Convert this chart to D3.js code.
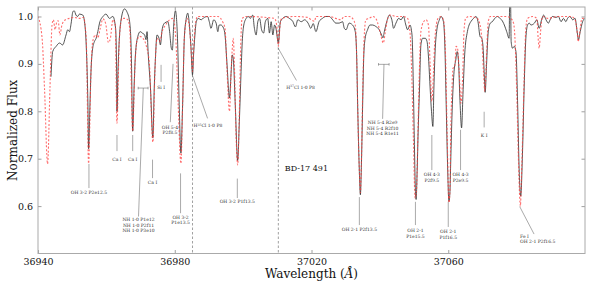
<!DOCTYPE html>
<html><head><meta charset="utf-8">
<script src="https://cdn.jsdelivr.net/npm/d3@7"></script>
<style>body{margin:0;background:#fff}svg{display:block}</style>
</head><body>
<svg id="c" width="597" height="285"></svg>
<script>
// ---- data ----
const obsWave=[36943.8,36944.3,36945.3,36946.3,36947.2,36948.2,36948.7,36949.2,36949.7,36950.2,36950.6,36951.1,36951.6,36952.1,36953.1,36953.6,36954.1,36954.6,36954.8,36955.2,36955.5,36956.0,36956.5,36957.0,36957.5,36958.0,36959.0,36959.9,36960.9,36961.9,36962.7,36963.0,36963.1,36963.4,36963.8,36964.3,36965.3,36966.0,36966.8,36967.3,36967.7,36968.1,36968.5,36969.2,36969.9,36970.5,36971.2,36971.6,36971.9,36972.2,36972.9,36973.6,36974.0,36974.4,36974.8,36975.4,36975.8,36976.3,36977.0,36978.0,36978.5,36979.0,36979.3,36979.7,36980.2,36980.8,36981.3,36981.8,36982.3,36982.8,36983.3,36983.8,36984.2,36984.7,36985.2,36985.5,36985.9,36986.3,36986.9,36987.7,36988.6,36989.6,36990.1,36990.6,36991.4,36992.1,36992.6,36993.0,36993.5,36994.3,36994.7,36995.3,36996.0,36996.5,36996.8,36997.1,36997.7,36998.4,36998.9,36999.4,36999.8,37000.2,37000.9,37001.5,37002.1,37002.8,37003.3,37003.8,37004.3,37004.8,37005.4,37006.0,37006.5,37007.2,37007.7,37008.2,37008.7,37009.2,37009.6,37010.3,37010.9,37011.6,37012.6,37013.5,37014.5,37015.3,37016.0,37017.0,37018.0,37019.0,37019.8,37020.5,37021.3,37022.2,37023.2,37024.2,37025.2,37026.2,37027.1,37028.1,37029.1,37029.6,37030.1,37031.0,37032.0,37032.8,37033.2,37033.5,37034.0,37034.3,37034.6,37035.0,37035.3,37035.7,37036.4,37037.1,37037.9,37038.8,37039.8,37040.5,37040.9,37041.3,37042.0,37042.8,37043.5,37044.0,37044.7,37045.5,37046.2,37046.9,37047.6,37048.1,37048.8,37049.4,37049.8,37050.1,37050.4,37050.6,37050.9,37051.2,37051.6,37052.0,37052.5,37053.3,37053.8,37054.3,37054.7,37055.1,37055.5,37055.8,37056.2,37056.6,37057.4,37057.9,37058.6,37059.0,37059.4,37059.8,37060.2,37060.5,37060.7,37061.2,37061.7,37062.2,37062.6,37063.0,37063.4,37063.9,37064.3,37064.8,37065.6,37066.1,37066.6,37067.4,37068.1,37068.7,37069.3,37069.8,37070.2,37070.5,37070.8,37071.2,37071.7,37072.3,37072.9,37073.6,37074.4,37075.1,37075.6,37076.4,37077.1,37077.8,37078.0,37078.2,37078.4,37078.8,37079.3,37079.8,37080.3,37080.7,37081.2,37081.7,37082.2,37082.7,37083.2,37083.7,37084.2,37085.2,37085.9,37086.6,37087.3,37087.9,37088.6,37089.3,37089.8,37090.5,37091.5,37092.2,37093.0,37093.7,37094.4,37094.9,37095.6,37096.4,37097.1,37097.7,37098.1,37098.6,37099.3,37100.0];
const obsFlux=[0.873,0.926,0.937,0.944,0.940,0.961,0.972,0.968,0.986,1.010,1.012,1.003,1.000,1.005,1.003,0.989,0.940,0.814,0.721,0.814,0.884,0.933,0.947,0.954,0.968,0.986,1.000,1.005,0.996,1.000,0.975,0.884,0.800,0.884,0.954,0.993,1.016,1.010,0.989,0.919,0.758,0.849,0.919,0.958,0.968,0.965,0.961,0.951,0.968,0.926,0.849,0.744,0.849,0.919,0.961,0.954,0.940,0.972,0.986,0.989,0.968,0.933,0.929,0.982,1.012,0.954,0.814,0.712,0.814,0.954,0.993,1.007,0.989,0.940,0.877,0.919,0.961,0.989,0.996,0.993,0.998,1.000,0.989,0.975,0.993,0.986,0.968,0.982,0.982,0.975,0.961,0.898,0.828,0.884,0.919,0.912,0.814,0.696,0.779,0.884,0.954,0.982,0.996,1.000,0.996,1.003,0.975,0.961,0.989,0.996,0.972,0.965,0.989,0.996,0.965,0.989,0.961,0.982,0.975,0.944,0.989,0.996,1.000,0.996,0.990,0.978,0.993,0.989,0.993,0.986,0.975,0.985,0.968,0.989,0.996,1.000,1.000,0.993,0.986,0.986,0.989,0.975,0.972,0.986,0.982,0.968,0.919,0.814,0.673,0.624,0.687,0.828,0.919,0.954,0.972,0.982,0.982,0.979,0.972,0.961,0.955,0.968,0.989,1.003,0.993,0.975,0.986,0.996,0.993,1.000,0.982,0.972,0.982,0.961,0.849,0.730,0.631,0.614,0.673,0.758,0.849,0.940,0.954,0.954,0.947,0.905,0.849,0.800,0.768,0.849,0.933,0.968,0.993,1.000,0.989,0.940,0.814,0.687,0.610,0.631,0.687,0.814,0.884,0.908,0.926,0.905,0.828,0.765,0.835,0.919,0.968,0.982,0.989,0.996,1.000,0.989,0.958,0.954,0.933,0.884,0.840,0.898,0.968,0.986,0.989,0.996,1.000,0.996,0.993,0.982,0.968,0.954,1.045,1.045,0.947,0.933,0.937,0.926,0.814,0.687,0.621,0.708,0.849,0.954,0.982,0.986,0.982,0.986,0.993,0.975,0.993,1.003,0.993,0.986,0.993,1.000,0.998,1.000,0.989,0.996,0.989,0.996,1.000,0.993,0.996,0.968,0.951,0.968,0.989,0.996];

const modWave=[36940.0,36941.2,36941.9,36942.8,36943.5,36944.1,36944.5,36945.0,36945.5,36945.9,36946.4,36947.0,36948.0,36949.2,36950.6,36952.1,36953.3,36954.1,36954.8,36955.5,36956.0,36956.8,36957.5,36958.2,36959.0,36959.8,36960.6,36961.2,36961.9,36962.6,36963.1,36963.8,36964.6,36965.3,36966.3,36966.9,36967.7,36968.3,36968.9,36969.7,36970.7,36971.6,36972.6,36973.6,36974.2,36974.8,36975.6,36976.3,36977.3,36978.5,36979.5,36980.3,36981.0,36981.8,36982.3,36982.8,36983.6,36984.2,36984.7,36985.2,36985.6,36986.0,36986.7,36990.6,36992.6,36994.0,36994.7,36995.3,36996.0,36996.5,36996.9,36997.1,36997.5,36997.9,36998.4,36998.9,36999.3,36999.7,37000.9,37009.2,37009.8,37010.3,37010.8,37011.3,37015.0,37018.9,37019.9,37020.9,37021.3,37023.2,37025.2,37027.1,37028.6,37029.6,37031.0,37032.0,37032.8,37033.2,37033.6,37034.0,37034.3,37034.6,37035.0,37035.4,37035.9,37036.9,37037.9,37038.8,37039.8,37040.5,37041.0,37041.6,37042.3,37043.2,37044.7,37046.7,37048.1,37048.8,37049.3,37049.8,37050.3,37050.7,37051.1,37051.5,37052.0,37052.8,37053.5,37054.2,37054.7,37055.2,37055.7,37056.1,37057.0,37057.9,37058.6,37059.2,37059.7,37060.2,37060.5,37060.7,37061.1,37061.4,37061.9,37062.3,37062.7,37063.2,37063.7,37064.2,37064.6,37065.1,37066.1,37068.5,37069.3,37069.8,37070.3,37070.7,37071.2,37071.7,37072.3,37076.9,37078.3,37079.1,37079.6,37080.0,37080.5,37080.9,37081.1,37081.4,37081.8,37082.2,37082.7,37083.2,37084.7,37085.9,37086.3,37086.6,37087.0,37087.6,37089.1,37092.0,37095.9,37097.1,37097.7,37098.0,37098.5,37099.1,37100.0];
const modFlux=[1.000,0.954,0.849,0.689,0.849,0.982,0.993,0.972,0.989,0.991,0.961,0.982,0.993,0.996,0.998,0.996,0.998,0.954,0.690,0.884,0.947,0.961,0.955,0.975,0.995,0.985,0.945,0.955,0.993,0.982,0.775,0.954,0.996,0.996,0.993,0.968,0.758,0.884,0.947,0.958,0.954,0.940,0.898,0.735,0.884,0.954,0.947,0.968,0.982,0.993,0.996,0.954,0.814,0.690,0.814,0.954,0.996,0.982,0.940,0.884,0.940,0.982,1.000,1.000,1.000,0.989,0.975,0.884,0.800,0.884,0.940,0.954,0.884,0.758,0.687,0.800,0.940,0.996,1.000,0.996,0.982,0.937,0.982,0.996,1.000,0.998,0.993,0.990,1.000,1.000,1.000,0.996,0.993,1.000,1.000,0.996,0.982,0.919,0.779,0.673,0.628,0.694,0.849,0.954,0.993,0.996,1.000,0.996,0.975,0.954,0.944,0.968,0.996,1.003,1.000,1.000,0.996,0.968,0.884,0.744,0.617,0.631,0.744,0.870,0.968,0.989,0.993,0.982,0.898,0.821,0.884,0.954,0.996,1.000,0.993,0.919,0.744,0.607,0.631,0.743,0.849,0.891,0.894,0.937,0.933,0.884,0.817,0.870,0.968,0.996,1.000,0.996,0.982,0.954,0.884,0.842,0.919,0.989,1.000,1.000,0.996,0.986,0.940,0.849,0.708,0.617,0.600,0.659,0.758,0.870,0.975,0.996,1.000,0.996,0.954,0.933,0.968,1.000,0.996,1.000,1.000,0.993,0.968,0.947,0.968,0.996,0.996];

const xTicks=[36940,36980,37020,37060];
const yTicks=[0.6,0.7,0.8,0.9,1.0];
const refLines=[36985.2,37010.3];
const starName="BD-17 491";

// line annotations: label lines, line from (x1,y1) to (x2,y2), text at (tx,ty)
const annotations=[
 {lines:["OH 3-2 P2e12.5"],x1:36954.9,y1:0.689,x2:36954.9,y2:0.638,tx:36954.9,ty:0.629},
 {lines:["Ca I"],x1:36963.1,y1:0.750,x2:36963.1,y2:0.716,tx:36963.1,ty:0.699},
 {lines:["Ca I"],x1:36967.7,y1:0.750,x2:36967.7,y2:0.716,tx:36967.7,ty:0.699},
 {lines:["Ca I"],x1:36973.5,y1:0.698,x2:36973.5,y2:0.659,tx:36973.5,ty:0.650},
 {lines:["NH 1-0 P1e12","NH 1-0 P2f11","NH 1-0 P3e10"],x1:36970.8,y1:0.849,x2:36969.4,y2:0.578,tx:36969.4,ty:0.571,bracket:[36969.3,36972.2]},
 {lines:["Si I"],x1:36976.0,y1:0.898,x2:36976.0,y2:0.862,tx:36976.0,ty:0.851},
 {lines:["OH 5-4","P2f8.5"],x1:36979.5,y1:0.900,x2:36978.7,y2:0.777,tx:36978.6,ty:0.767},
 {lines:["OH 3-2","P1e13.5"],x1:36981.7,y1:0.669,x2:36981.7,y2:0.585,tx:36981.7,ty:0.576},
 {lines:["H<sup>35</sup>Cl 1-0 P8"],x1:36985.1,y1:0.877,x2:36989.6,y2:0.785,tx:36989.7,ty:0.770},
 {lines:["H<sup>37</sup>Cl 1-0 P8"],x1:37010.2,y1:0.934,x2:37015.6,y2:0.865,tx:37016.8,ty:0.851},
 {lines:["OH 3-2 P1f13.5"],x1:36998.3,y1:0.658,x2:36998.3,y2:0.617,tx:36998.3,ty:0.610},
 {lines:["OH 2-1 P2f13.5"],x1:37034.0,y1:0.619,x2:37034.0,y2:0.560,tx:37034.0,ty:0.550},
 {lines:["NH 5-4 R2e9","NH 5-4 R2f10","NH 5-4 R1e11"],x1:37041.2,y1:0.899,x2:37040.8,y2:0.784,tx:37040.8,ty:0.776,bracket:[37039.6,37042.7]},
 {lines:["OH 4-3","P2f9.5"],x1:37055.2,y1:0.750,x2:37055.2,y2:0.676,tx:37055.2,ty:0.666},
 {lines:["OH 2-1","P1e15.5"],x1:37050.4,y1:0.609,x2:37050.4,y2:0.560,tx:37050.4,ty:0.548},
 {lines:["OH 2-1","P1f16.5"],x1:37060.0,y1:0.609,x2:37060.0,y2:0.556,tx:37060.0,ty:0.546},
 {lines:["OH 4-3","P2e9.5"],x1:37063.6,y1:0.761,x2:37063.6,y2:0.676,tx:37063.6,ty:0.666},
 {lines:["K I"],x1:37070.5,y1:0.799,x2:37070.5,y2:0.766,tx:37070.5,ty:0.750},
 {lines:["Fe I","OH 2-1 P2f16.5"],x1:37080.9,y1:0.599,x2:37085.1,y2:0.541,tx:37081.0,ty:0.536,anchor:"start"}
];

// ---- drawing ----
const svg=d3.select("#c");
const L=38,R=585,T=7,B=253.5;
const x=d3.scaleLinear().domain([36940,37100]).range([L,R]);
const y=d3.scaleLinear().domain([0.5,1.02]).range([B,T]);
const serif="'DejaVu Serif', serif";

svg.append("rect").attr("width",597).attr("height",285).attr("fill","#fff");
svg.append("clipPath").attr("id","pc").append("rect").attr("x",L).attr("y",T).attr("width",R-L).attr("height",B-T);

const plot=svg.append("g").attr("clip-path","url(#pc)");
const line=d3.line().x(d=>x(d[0])).y(d=>y(d[1])).curve(d3.curveMonotoneX);

plot.selectAll(".ref").data(refLines).join("line")
 .attr("x1",d=>x(d)).attr("x2",d=>x(d)).attr("y1",T).attr("y2",B)
 .attr("stroke","#888").attr("stroke-width",0.8).attr("stroke-dasharray","2.5,2");

plot.append("path").datum(obsWave.map((w,i)=>[w,obsFlux[i]]))
 .attr("d",line).attr("fill","none").attr("stroke","#2a2a2a").attr("stroke-width",0.8);
plot.append("path").datum(modWave.map((w,i)=>[w,modFlux[i]]))
 .attr("d",line).attr("fill","none").attr("stroke","#ff3b3b").attr("stroke-opacity",0.75)
 .attr("stroke-width",1.1).attr("stroke-dasharray","2,1.8");

// annotations
const ag=svg.append("g");
const fs=4.5;
annotations.forEach(a=>{
  ag.append("line").attr("x1",x(a.x1)).attr("y1",y(a.y1)).attr("x2",x(a.x2)).attr("y2",y(a.y2))
    .attr("stroke","#555").attr("stroke-width",0.5);
  if(a.bracket){
    const by=y(a.y1);
    ag.append("path").attr("d",`M${x(a.bracket[0])},${by-1.3}V${by+1.3}M${x(a.bracket[0])},${by}H${x(a.bracket[1])}M${x(a.bracket[1])},${by-1.3}V${by+1.3}`)
      .attr("stroke","#555").attr("stroke-width",0.5).attr("fill","none");
  }
  const t=ag.append("text").attr("font-family",serif).attr("font-size",fs).attr("fill","#333")
    .attr("text-anchor",a.anchor||"middle");
  a.lines.forEach((ln,i)=>{
    const ts=t.append("tspan").attr("x",x(a.tx)).attr("y",y(a.ty)+fs*0.36+i*5.3);
    const m=ln.match(/^(.*)<sup>(.*)<\/sup>(.*)$/);
    if(m){
      ts.append("tspan").text(m[1]);
      ts.append("tspan").attr("dy",-1.4).attr("font-size",fs*0.7).text(m[2]);
      ts.append("tspan").attr("dy",1.4).text(m[3]);
    } else ts.text(ln);
  });
});

svg.append("text").attr("x",x(37012.2)).attr("y",y(0.681)+3).attr("font-family",serif)
 .attr("font-size",8).attr("fill","#111").text(starName);

// axes
const tickCol="#888";
function styleAxis(g){g.select(".domain").remove();g.selectAll("line").attr("stroke",tickCol).attr("stroke-width",0.8);
  g.selectAll("text").attr("font-family",serif).attr("font-size",9.5).attr("fill","#111");}
svg.append("g").attr("transform",`translate(0,${B})`)
 .call(d3.axisBottom(x).tickValues(xTicks).tickFormat(d3.format("d")).tickSizeInner(-3.5).tickSizeOuter(0).tickPadding(5)).call(styleAxis);
svg.append("g").attr("transform",`translate(0,${T})`)
 .call(d3.axisTop(x).tickValues(xTicks).tickFormat("").tickSizeInner(-3.5).tickSizeOuter(0)).call(styleAxis);
svg.append("g").attr("transform",`translate(${L},0)`)
 .call(d3.axisLeft(y).tickValues(yTicks).tickFormat(d3.format(".1f")).tickSizeInner(-3.5).tickSizeOuter(0).tickPadding(5)).call(styleAxis);
svg.append("g").attr("transform",`translate(${R},0)`)
 .call(d3.axisRight(y).tickValues(yTicks).tickFormat("").tickSizeInner(-3.5).tickSizeOuter(0)).call(styleAxis);

svg.append("rect").attr("x",L).attr("y",T).attr("width",R-L).attr("height",B-T)
 .attr("fill","none").attr("stroke","#aaa").attr("stroke-width",1);

// axis labels
svg.append("text").attr("transform",`translate(16.5,${(T+B)/2}) rotate(-90)`).attr("text-anchor","middle")
 .attr("font-family",serif).attr("font-size",12).attr("fill","#111").text("Normalized Flux");
const xl=svg.append("text").attr("x",(L+R)/2).attr("y",278).attr("text-anchor","middle")
 .attr("font-family",serif).attr("font-size",12).attr("fill","#111");
xl.append("tspan").text("Wavelength (");
xl.append("tspan").attr("font-style","italic").text("Å");
xl.append("tspan").text(")");
</script>
</body></html>
